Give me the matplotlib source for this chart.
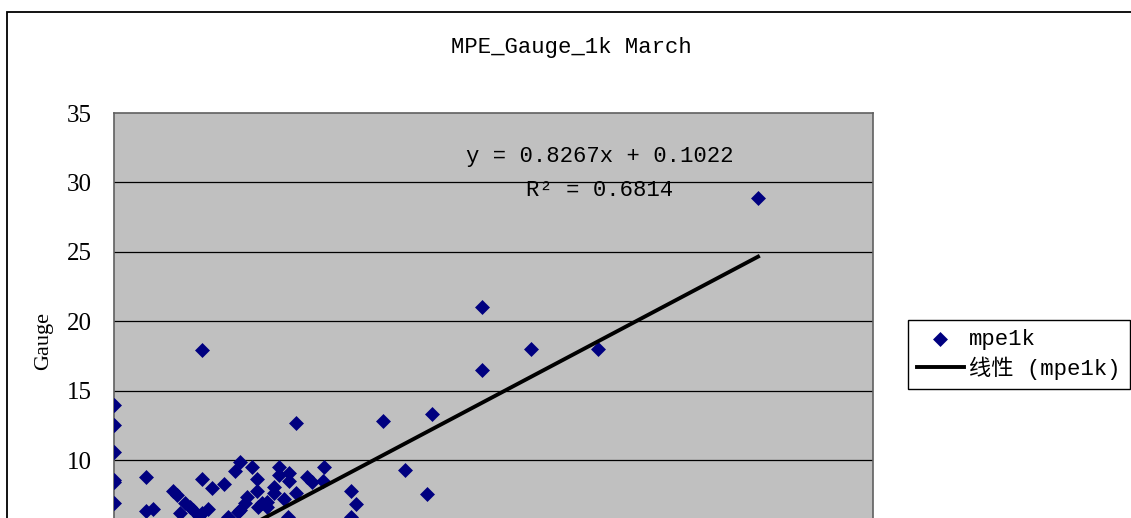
import matplotlib.pyplot as plt
from matplotlib.patches import Rectangle

# mpe1k readings (x) vs gauge (y)
mpe_x = [0, 0, 0, 0, 0, 0,
         4.07, 8.39, 16.97, 16.97, 19.23, 22.3, 29.7, 12.4, 14.67, 13.42, 14.44,
         10.93, 11.16, 10.93,
         1.48, 2.7, 2.9, 4.07, 4.53, 5.09, 5.58, 5.81, 6.38, 6.61, 7.61, 7.62,
         8.09, 8.07, 8.89, 9.12, 9.67, 9.65, 6.61, 7.38, 7.38, 8.39, 7.86, 6.12,
         6.04, 6.81, 7.04, 6.66, 7.04, 5.81, 5.73, 1.48, 1.81, 3.27, 3.04, 3.66,
         4.04, 4.32, 5.27, 8.04, 3.5, 3.9]
gauge_y = [14.0, 12.5, 10.6, 8.6, 8.4, 6.9,
           17.9, 12.7, 21.0, 16.5, 18.0, 18.0, 28.9, 12.8, 13.3, 9.28, 7.55,
           7.77, 6.81, 5.92,
           8.76, 7.8, 7.5, 8.63, 8.0, 8.29, 9.23, 9.88, 9.52, 8.63, 9.52, 8.92,
           9.09, 8.51, 8.8, 8.44, 9.52, 8.51, 7.79, 8.08, 7.65, 7.6, 7.17, 7.31,
           6.88, 6.88, 7.0, 6.64, 6.64, 6.4, 6.28, 6.33, 6.45, 6.88, 6.17, 6.4,
           6.17, 6.45, 5.92, 5.92, 6.6, 6.0]

# linear trend as reported on the chart
slope = 0.8267
intercept = 0.1022

yticks = [0, 5, 10, 15, 20, 25, 30, 35]

W, H = 1131, 518
fig = plt.figure(figsize=(W / 100, H / 100), dpi=100)

# plot area runs past the bottom edge of the (cropped) picture
ax = fig.add_axes([114 / W, 1 - 599 / H, 759 / W, 486 / H])
ax.set_facecolor('#C0C0C0')
ax.set_xlim(0, 35)
ax.set_ylim(0, 35)
ax.set_yticks(yticks)
ax.set_xticks([])
for y in yticks[1:-1]:
    ax.axhline(y, color='black', linewidth=0.9, zorder=1)
for s in ax.spines.values():
    s.set_color('#606060')
    s.set_linewidth(1.2)
ax.tick_params(axis='y', length=0, pad=16, labelsize=18)
for val, lab in zip(yticks, ax.get_yticklabels()):
    lab.set_fontfamily('Liberation Serif')
    # labels below the cropped edge are not shown in the picture
    if val < 10:
        lab.set_visible(False)

ax.scatter(mpe_x, gauge_y, marker='D', s=58, color='#000080', linewidths=0,
           zorder=3, label='mpe1k')

xs = [min(mpe_x), max(mpe_x)]
ax.plot(xs, [slope * x + intercept for x in xs], color='black', linewidth=2.8,
        zorder=4, label='线性 (mpe1k)')

mono = ['Liberation Mono', 'Noto Sans CJK SC']
fig.text(571 / W, 1 - 47 / H, 'MPE_Gauge_1k March', ha='center', va='center',
         fontsize=16, family=mono)
fig.text(600 / W, 1 - 156 / H, f'y = {slope}x + {intercept}', ha='center',
         va='center', fontsize=16, family=mono)
fig.text(600 / W, 1 - 191 / H, 'R² = 0.6814', ha='center', va='center',
         fontsize=16, family=mono)
fig.text(44 / W, 1 - 341 / H, 'Gauge', rotation=90, ha='center', va='center',
         fontsize=16, family='Liberation Serif')

leg = ax.legend(loc='upper left', bbox_to_anchor=(908 / W, 1 - 320 / H),
                bbox_transform=fig.transFigure, frameon=True, fancybox=False,
                edgecolor='black', framealpha=1, borderaxespad=0, borderpad=0.4,
                handlelength=2.1, handletextpad=0.25, labelspacing=0.3,
                prop={'family': mono, 'size': 16})
leg.get_frame().set_linewidth(1.0)

# outer chart border (cropped at right and bottom)
fig.patches.append(Rectangle((7 / W, -0.5), 2, 1 - 12 / H + 0.5, fill=False,
                             edgecolor='black', linewidth=1.3,
                             transform=fig.transFigure))

fig.savefig('out.png', dpi=100)
